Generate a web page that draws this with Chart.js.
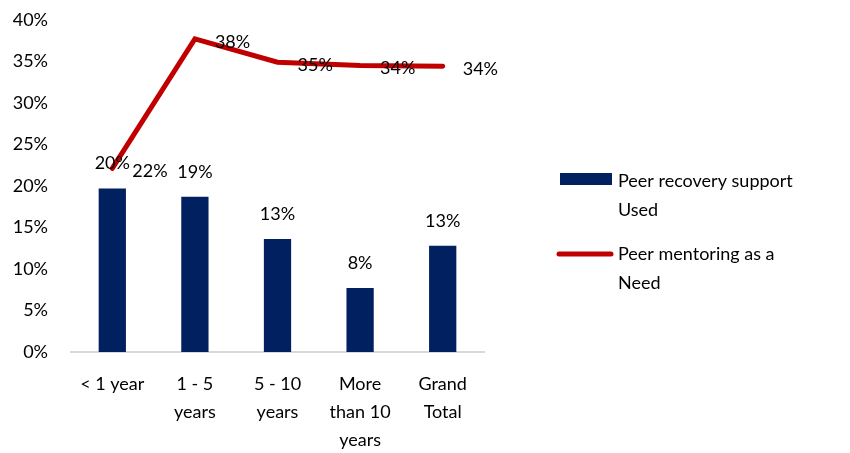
<!DOCTYPE html>
<html>
<head>
<meta charset="utf-8">
<script src="https://cdn.jsdelivr.net/npm/chart.js@4/dist/chart.umd.min.js"></script>
<style>
  html, body { margin: 0; padding: 0; background: #fff; overflow: hidden; }
  #wrap { width: 850px; height: 459px; margin-top: -6px; }
</style>
</head>
<body>
<div id="wrap"><canvas id="chart"></canvas></div>
<script>
// categories and values
const categories = [['< 1 year'], ['1 - 5', 'years'], ['5 - 10', 'years'], ['More', 'than 10', 'years'], ['Grand', 'Total']];
const usedValues = [19.7, 18.7, 13.6, 7.7, 12.8];
const usedLabels = ['20%', '19%', '13%', '8%', '13%'];
const needValues = [22.1, 37.7, 34.9, 34.5, 34.4];
const needLabels = ['22%', '38%', '35%', '34%', '34%'];
const usedLegend = ['Peer recovery support', 'Used'];
const needLegend = ['Peer mentoring as a', 'Need'];

const FONT = 'Lato, "Open Sans", sans-serif';
const NAVY = '#002060';
const RED = '#c00000';

// value labels: above bars, to the right of line points
const valueLabels = {
  id: 'valueLabels',
  afterDatasetsDraw(chart) {
    const ctx = chart.ctx;
    ctx.save();
    ctx.font = '18px ' + FONT;
    ctx.fillStyle = '#000';
    ctx.textBaseline = 'middle';
    chart.getDatasetMeta(0).data.forEach((bar, i) => {
      ctx.textAlign = 'center';
      ctx.fillText(usedLabels[i], bar.x, bar.y - 25);
    });
    chart.getDatasetMeta(1).data.forEach((pt, i) => {
      ctx.textAlign = 'left';
      ctx.fillText(needLabels[i], pt.x + 20, pt.y + 3);
    });
    ctx.restore();
  }
};

// two-line legend on the right (canvas is shifted up 6px by css)
const sideLegend = {
  id: 'sideLegend',
  afterDraw(chart) {
    const ctx = chart.ctx;
    ctx.save();
    ctx.font = '18px ' + FONT;
    ctx.textAlign = 'left';
    ctx.textBaseline = 'middle';

    ctx.fillStyle = NAVY;
    ctx.fillRect(560, 179, 52, 12);
    ctx.fillStyle = '#000';
    usedLegend.forEach((t, i) => ctx.fillText(t, 618, 187 + i * 29));

    ctx.strokeStyle = RED;
    ctx.lineWidth = 5;
    ctx.lineCap = 'round';
    ctx.beginPath();
    ctx.moveTo(559, 260);
    ctx.lineTo(611, 260);
    ctx.stroke();
    needLegend.forEach((t, i) => ctx.fillText(t, 618, 260 + i * 29));
    ctx.restore();
  }
};

new Chart(document.getElementById('chart'), {
  data: {
    labels: categories,
    datasets: [
      {
        type: 'bar',
        label: usedLegend.join(' '),
        data: usedValues,
        backgroundColor: NAVY,
        categoryPercentage: 1,
        barPercentage: 0.33,
        order: 2
      },
      {
        type: 'line',
        label: needLegend.join(' '),
        data: needValues,
        borderColor: RED,
        borderWidth: 5,
        borderCapStyle: 'round',
        borderJoinStyle: 'miter',
        pointRadius: 0,
        tension: 0,
        order: 1
      }
    ]
  },
  options: {
    responsive: true,
    maintainAspectRatio: false,
    animation: false,
    layout: { padding: { top: 0, right: 366, left: 0, bottom: 0 } },
    plugins: {
      legend: { display: false },
      tooltip: { enabled: false }
    },
    scales: {
      x: {
        offset: true,
        grid: { display: false },
        border: { display: true, color: '#d9d9d9', width: 2 },
        afterFit: s => { s.height = 101; },
        ticks: {
          color: '#000',
          font: { family: FONT, size: 18, lineHeight: 1.55 },
          maxRotation: 0,
          autoSkip: false,
          padding: 10
        }
      },
      y: {
        min: 0,
        max: 40,
        grid: { display: false },
        border: { display: false },
        afterFit: s => { s.width = 71; },
        ticks: {
          stepSize: 5,
          color: '#000',
          font: { family: FONT, size: 18 },
          padding: 15,
          callback: v => v + '%'
        }
      }
    }
  },
  plugins: [valueLabels, sideLegend]
});
</script>
</body>
</html>
